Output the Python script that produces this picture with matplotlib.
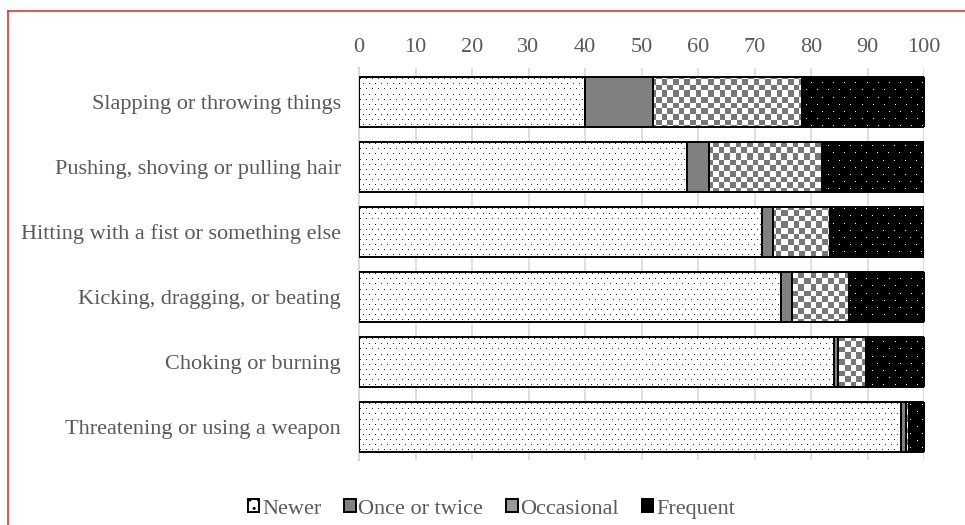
import numpy as np
import matplotlib
matplotlib.use("Agg")
import matplotlib.pyplot as plt
from matplotlib.patches import Patch
from matplotlib.lines import Line2D

categories = [
    "Slapping or throwing things",
    "Pushing, shoving or pulling hair",
    "Hitting with a fist or something else",
    "Kicking, dragging, or beating",
    "Choking or burning",
    "Threatening or using a weapon",
]
series_names = ["Newer", "Once or twice", "Occasional", "Frequent"]
newer = [40.0, 58.0, 71.4, 74.7, 84.1, 95.9]
once = [12.0, 4.0, 1.8, 1.9, 0.6, 1.0]
occasional = [26.4, 20.0, 10.2, 10.1, 5.0, 0.4]
frequent = [21.6, 18.0, 16.6, 13.3, 10.3, 2.7]
x_ticks = [0, 10, 20, 30, 40, 50, 60, 70, 80, 90, 100]

plt.rcParams["font.family"] = ["Liberation Serif", "DejaVu Serif"]

W, H, DPI = 965, 525, 100
fig = plt.figure(figsize=(W / DPI, H / DPI), dpi=DPI)
ax_l, ax_r, ax_t, ax_b = 359, 924, 68, 460
ax = fig.add_axes([ax_l / W, 1 - ax_b / H, (ax_r - ax_l) / W, (ax_b - ax_t) / H])

ylim = (5.51, -0.52)
ypos = np.arange(len(categories))
bar_h = 0.77

# pixel textures (style only)
pw, ph = ax_r - ax_l, ax_b - ax_t
yy, xx = np.mgrid[0:ph, 0:pw]

def dots(bg, fg, px, py):
    arr = np.ones((ph, pw, 3)) * np.array(bg)
    row = yy // py
    on = ((yy % py) == 1) & (((xx + (row % 2) * (px // 2)) % px) == 1)
    arr[on] = fg
    return arr

tex_newer = dots([1, 1, 1], [0.15, 0.15, 0.15], 6, 5)
tex_freq = dots([0, 0, 0], [1, 1, 1], 11, 7)
chk = ((np.floor(xx / 5.7) + np.floor(yy / 5.7)) % 2).astype(bool)
tex_occ = np.ones((ph, pw, 3))
tex_occ[chk] = [0.47, 0.47, 0.47]

edge_lw = 1.4
left = np.zeros(len(categories))
series = [newer, once, occasional, frequent]
textures = [tex_newer, None, tex_occ, tex_freq]
for vals, tex in zip(series, textures):
    vals = np.array(vals)
    face = "none" if tex is not None else "#808080"
    bars = ax.barh(ypos, vals, left=left, height=bar_h, facecolor=face,
                   edgecolor="black", linewidth=edge_lw, zorder=3)
    if tex is not None:
        for b in bars:
            im = ax.imshow(tex, extent=(0, 100, ylim[0], ylim[1]), origin="upper",
                           aspect="auto", interpolation="nearest", zorder=2)
            im.set_clip_path(b)
    left = left + vals

FS = 16
ax.set_xlim(0, 100)
ax.set_ylim(*ylim)
ax.set_xticks(x_ticks)
ax.xaxis.tick_top()
ax.tick_params(axis="x", length=0, pad=8, labelsize=FS, labelcolor="#595959")
ax.set_yticks(ypos)
ax.set_yticklabels(categories)
ax.tick_params(axis="y", length=0, pad=13, labelsize=FS, labelcolor="#595959")
ax.grid(axis="x", color="#d9d9d9", linewidth=1.2, zorder=0)
ax.set_axisbelow(True)
for s in ["top", "right", "bottom"]:
    ax.spines[s].set_visible(False)
ax.spines["left"].set_color("#d9d9d9")
ax.spines["left"].set_linewidth(1.5)

handles = [
    Patch(facecolor="white", edgecolor="black", hatch="..", linewidth=1.4),
    Patch(facecolor="#808080", edgecolor="black", linewidth=1.4),
    Patch(facecolor="#9a9a9a", edgecolor="black", linewidth=1.4),
    Patch(facecolor="black", edgecolor="black", linewidth=1.4),
]
leg = fig.legend(handles, series_names, loc="center", bbox_to_anchor=(491.5 / W, 1 - 509 / H),
                 ncol=4, frameon=False, fontsize=FS, handlelength=0.5, handleheight=0.5,
                 handletextpad=0.12, columnspacing=1.05, labelcolor="#595959")

red = "#d9383a"
fig.add_artist(Line2D([8 / W, 1], [1 - 11 / H, 1 - 11 / H], color=red, linewidth=1.2,
                      transform=fig.transFigure))
fig.add_artist(Line2D([8 / W, 8 / W], [0, 1 - 11 / H], color=red, linewidth=1.2,
                      transform=fig.transFigure))

fig.savefig("out.png", dpi=DPI)
